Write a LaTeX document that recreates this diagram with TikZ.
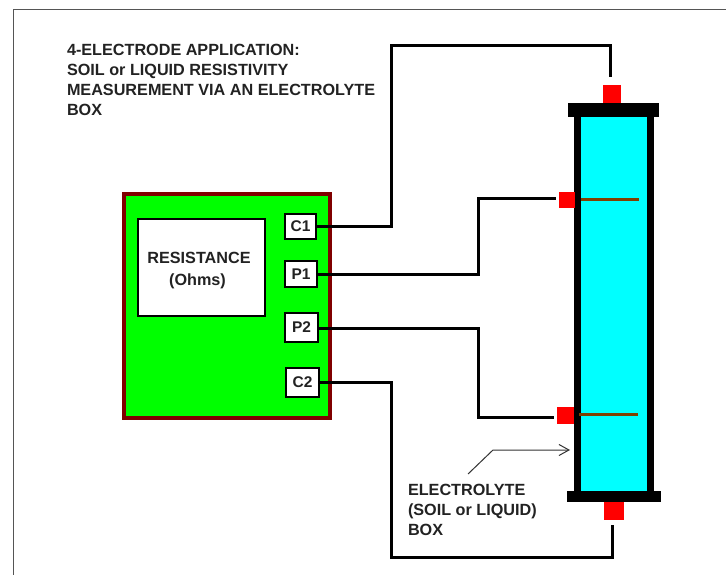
\documentclass[tikz,border=0pt]{standalone}
\usepackage{fontspec}
\setmainfont{Liberation Sans}
\usetikzlibrary{arrows.meta}
\definecolor{framegray}{HTML}{555555}
\definecolor{pointergray}{HTML}{333333}
\definecolor{meterred}{HTML}{800000}
\definecolor{metergreen}{HTML}{00FF00}
\definecolor{boxcyan}{HTML}{00FFFF}
\definecolor{probebrown}{HTML}{804000}
\definecolor{txt}{HTML}{222222}
\tikzset{
  block/.style={inner sep=0pt,outer sep=0pt,anchor=north west},
  terminal/.style={block,draw=black,line width=2pt,fill=white,text=txt,font=\bfseries\fontsize{15.5}{16}\selectfont},
  redpad/.style={block,fill=red},
  blackpart/.style={block,fill=black},
  wire/.style={draw=black,line width=3pt,line cap=butt,line join=miter},
  probe/.style={draw=probebrown,line width=3pt},
  caption/.style={inner sep=0pt,outer sep=0pt,anchor=north west,align=left,text=txt,font=\bfseries\fontsize{16.2}{20}\selectfont},
}
\begin{document}
\begin{tikzpicture}[x=1pt,y=-1pt]
\useasboundingbox (0,0) rectangle (726,575);
\fill[white] (0,0) rectangle (726,575);
\draw[framegray,line width=1pt] (13.5,575) -- (13.5,9.5) -- (726,9.5);

% Meter
\node[block,draw=meterred,fill=metergreen,line width=4pt,minimum width=206pt,minimum height=224pt] (meter) at (123.5,194) {};
\node[block,draw=black,fill=white,line width=2pt,minimum width=127pt,minimum height=97pt] (display) at (137.5,219) {};
\node[txt,inner sep=0pt,align=center,font=\bfseries\fontsize{16.2}{20}\selectfont] (readout) at (199,271) {RESISTANCE\\[2pt]\hspace*{-3pt}(Ohms)};
\node[terminal,minimum width=31pt,minimum height=25pt] (c1) at (285,214) {C1};
\node[terminal,minimum width=32pt,minimum height=26pt] (p1) at (285,261) {P1};
\node[terminal,minimum width=33pt,minimum height=29pt] (p2) at (285,313) {P2};
\node[terminal,minimum width=33pt,minimum height=29pt] (c2) at (286,368) {C2};

% Electrolyte box
\node[block,fill=boxcyan,minimum width=68pt,minimum height=376pt] (cell) at (580,116) {};
\node[blackpart,minimum width=7pt,minimum height=376pt] (wallL) at (574,116) {};
\node[blackpart,minimum width=7pt,minimum height=376pt] (wallR) at (647,116) {};
\node[blackpart,minimum width=91pt,minimum height=14pt] (capT) at (568,103) {};
\node[blackpart,minimum width=94pt,minimum height=11pt] (capB) at (567,491) {};
\node[redpad,minimum width=18pt,minimum height=18pt] (padT) at (603,85) {};
\node[redpad,minimum width=20pt,minimum height=18pt] (padB) at (604,502) {};
\node[redpad,minimum width=16pt,minimum height=16pt] (padU) at (559,192) {};
\node[redpad,minimum width=17pt,minimum height=17pt] (padL) at (557,407) {};

% Electrodes
\coordinate (probeUa) at (581,199.5);
\coordinate (probeUb) at (639,199.5);
\coordinate (probeLa) at (579,414);
\coordinate (probeLb) at (638,414);
\draw[probe] (probeUa) -- (probeUb);
\draw[probe] (probeLa) -- (probeLb);

% Wires
\coordinate (endT) at (610,77);
\coordinate (endU) at (556,199);
\coordinate (endL) at (554,417);
\coordinate (endB) at (612,525);
\draw[wire] (c1.east |- 0,226) -- (391,226) -- (391,46) -- (610,46) -- (endT);
\draw[wire] (p1.east |- 0,274) -- (478,274) -- (478,199) -- (endU);
\draw[wire] (p2.east |- 0,328) -- (478,328) -- (478,417) -- (endL);
\draw[wire] (c2.east |- 0,382) -- (391,382) -- (391,557) -- (612,557) -- (endB);

% Pointer
\coordinate (ptrA) at (468,474);
\coordinate (ptrB) at (493,450);
\coordinate (ptrC) at (570,450);
\draw[draw=pointergray,line width=1pt,-{Straight Barb[length=10pt,width=11pt,line width=1pt]}] (ptrA) -- (ptrB) -- (ptrC);

% Captions
\node[caption] (title) at (67,44.5) {4-ELECTRODE APPLICATION:\\SOIL or LIQUID RESISTIVITY\\MEASUREMENT VIA AN ELECTROLYTE\\BOX};
\node[caption] (boxlabel) at (408,484.5) {ELECTROLYTE\\(SOIL or LIQUID)\\BOX};
\end{tikzpicture}
\end{document}
